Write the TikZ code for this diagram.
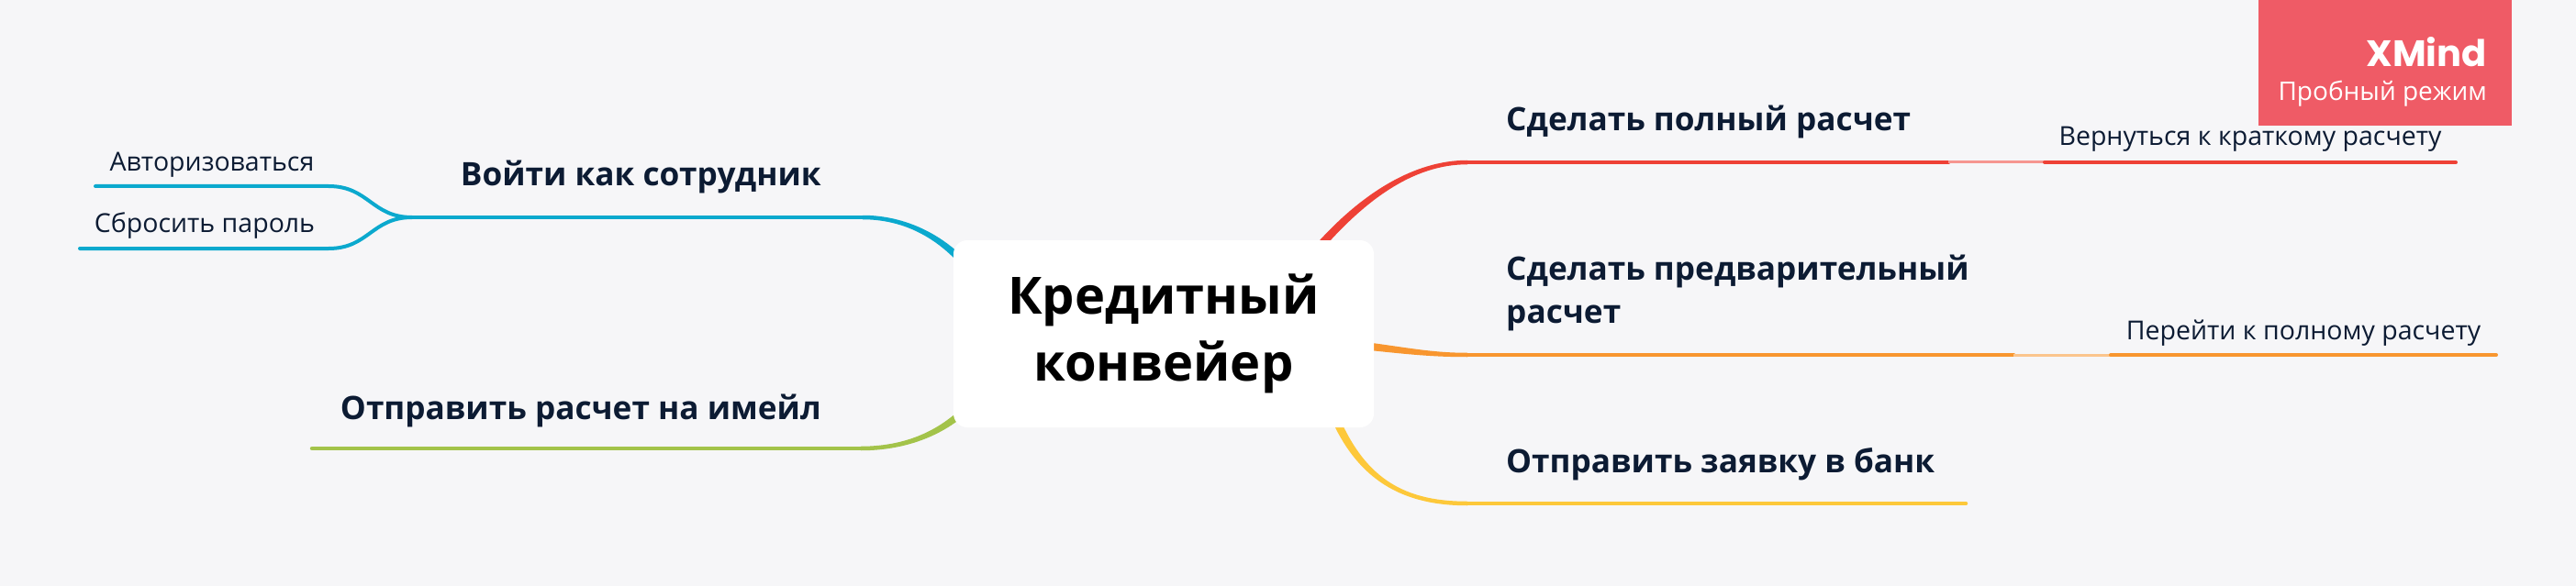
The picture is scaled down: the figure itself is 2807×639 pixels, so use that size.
\documentclass[tikz,border=0pt]{standalone}
\usepackage{fontspec}
\setmainfont{Open Sans}
\newfontfamily\popfont{Poppins}
\usetikzlibrary{calc}
\definecolor{bg}{HTML}{F6F6F8}
\definecolor{navy}{HTML}{0C1B33}
\definecolor{cblue}{HTML}{0BA9CE}
\definecolor{cgreen}{HTML}{A3C34A}
\definecolor{cred}{HTML}{EE4136}
\definecolor{corange}{HTML}{F8962F}
\definecolor{cyellow}{HTML}{FDC83A}
\definecolor{badge}{HTML}{EF5B66}
% tapered branch: #1 colour, #2 start coord, #3 control 1, #4 control 2, #5 end coord, #6 half width at start, #7 half width at end
\newcommand\branchcurve[7]{%
  \path (#2) coordinate (bS) #3 coordinate (bA) #4 coordinate (bB) (#5) coordinate (bE);
  \path ($(bS)!#6!90:(bA)$) coordinate (bS1) ($(bS)!#6!-90:(bA)$) coordinate (bS2)
        ($(bE)!#7!-90:(bB)$) coordinate (bE1) ($(bE)!#7!90:(bB)$) coordinate (bE2);
  \fill[#1] (bS1) .. controls ($(bA)+(bS1)-(bS)$) and ($(bB)+(bE1)-(bE)$) .. (bE1)
     -- (bE2) .. controls ($(bB)+(bE2)-(bE)$) and ($(bA)+(bS2)-(bS)$) .. (bS2) -- cycle;
}
\begin{document}
\begin{tikzpicture}[x=1pt,y=-1pt,
  topic/.style={font=\fontsize{35.2}{47}\selectfont\bfseries, text=navy, inner sep=0pt},
  subtopic/.style={font=\fontsize{28.5}{34}\selectfont, text=navy, inner sep=0pt},
  tline/.style={line width=4.5pt, line cap=round},
  sline/.style={line width=4pt, line cap=round},
  link/.style={line width=3pt},
  centerbox/.style={fill=white, rounded corners=15pt, minimum width=458pt, minimum height=204pt,
     inner sep=0pt, align=center, font=\fontsize{56}{73}\selectfont\bfseries, text=black}]
\fill[bg] (0,0) rectangle (2807,639);
\useasboundingbox (0,0) rectangle (2807,639);

% anchor points
\coordinate (cB) at (1075,320);
\coordinate (cG) at (1075,420);
\coordinate (cR) at (1420,290);
\coordinate (cO) at (1440,372);
\coordinate (cY) at (1445,430);

\coordinate (bl1) at (940,237);  \coordinate (bl0) at (449,237);
\coordinate (gl1) at (938,489);  \coordinate (gl0) at (340,489);
\coordinate (rl0) at (1599,177); \coordinate (rl1) at (2123,177);
\coordinate (ol0) at (1599,387); \coordinate (ol1) at (2194,387);
\coordinate (yl0) at (1599,549); \coordinate (yl1) at (2142,549);

\coordinate (a1) at (358,203); \coordinate (a0) at (104,203);
\coordinate (p1) at (358,271); \coordinate (p0) at (87,271);
\coordinate (v0) at (2228,177); \coordinate (v1) at (2676,177);
\coordinate (f0) at (2300,387); \coordinate (f1) at (2720,387);

% branches from centre
\branchcurve{cblue}{cB}{(1040,262)}{(990,237)}{bl1}{4.5pt}{2.25pt}
\branchcurve{cgreen}{cG}{(1040,470)}{(990,489)}{gl1}{4.5pt}{2.25pt}
\branchcurve{cred}{cR}{(1480,215)}{(1540,177)}{rl0}{4.5pt}{2.25pt}
\branchcurve{corange}{cO}{(1520,380)}{(1550,387)}{ol0}{4.5pt}{2.25pt}
\branchcurve{cyellow}{cY}{(1475,520)}{(1525,549)}{yl0}{4.5pt}{2.25pt}

% topic underlines
\draw[tline, cblue] (bl0) -- (bl1);
\draw[tline, cgreen] (gl0) -- (gl1);
\draw[tline, cred] (rl0) -- (rl1);
\draw[tline, corange] (ol0) -- (ol1);
\draw[tline, cyellow] (yl0) -- (yl1);

% subtopic connectors and underlines
\draw[sline, cblue] (bl0) .. controls (405,237) and (402,203) .. (a1) -- (a0);
\draw[sline, cblue] (bl0) .. controls (405,237) and (402,271) .. (p1) -- (p0);
\draw[link, cred!55] (rl1) -- (v0);
\draw[sline, cred] (v0) -- (v1);
\draw[link, corange!55] (ol1) -- (f0);
\draw[sline, corange] (f0) -- (f1);

% central topic
\node[centerbox] (center) at (1268,364) {Кредитный\\конвейер};

% topics
\node[topic, anchor=base east] (t1) at (895,203) {Войти как сотрудник};
\node[topic, anchor=base east] (t2) at (895,457) {Отправить расчет на имейл};
\node[topic, anchor=base west] (r1) at (1641,143) {Сделать полный расчет};
\node[topic, anchor=base west, align=left] (r2) at (1641,352) {Сделать предварительный\\расчет};
\node[topic, anchor=base west] (r3) at (1641,515) {Отправить заявку в банк};

% subtopics
\node[subtopic, anchor=base] (s1) at (231,187) {Авторизоваться};
\node[subtopic, anchor=base] (s2) at (223,253) {Сбросить пароль};
\node[subtopic, anchor=base] (s3) at (2452,159) {Вернуться к краткому расчету};
\node[subtopic, anchor=base] (s4) at (2510,370) {Перейти к полному расчету};

% trial badge
\fill[badge] (2461,0) rectangle (2737,137);
\node[anchor=base east, inner sep=0pt, text=white, font=\popfont\fontsize{40}{48}\selectfont\bfseries] (xm) at (2710,73) {XMind};
\node[anchor=base east, inner sep=0pt, text=white, font=\fontsize{28}{34}\selectfont] (tr) at (2710,110) {Пробный режим};
\end{tikzpicture}
\end{document}
